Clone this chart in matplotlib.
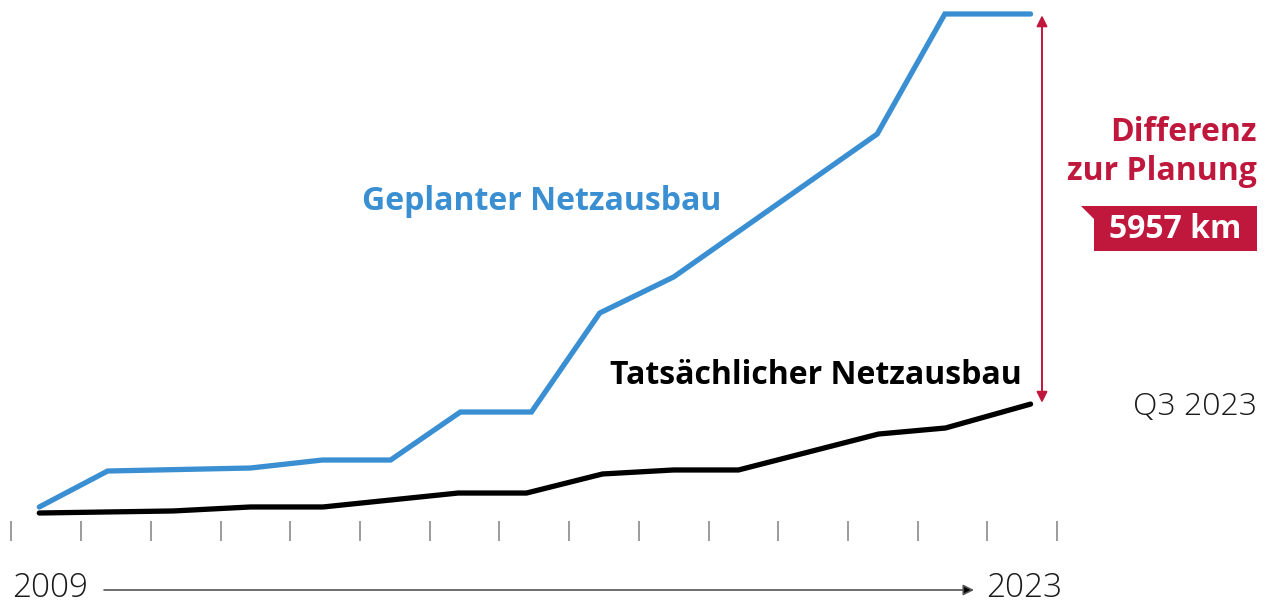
import matplotlib
matplotlib.use("Agg")
import matplotlib.pyplot as plt
from matplotlib.patches import Polygon

# ---- data (km) ----
planned_x = [2009.40, 2010.38, 2012.43, 2013.46, 2014.44, 2015.44, 2016.46,
             2017.44, 2018.50, 2021.42, 2022.39, 2023.62]
planned_km = [92, 641, 687, 809, 809, 1542, 1542, 3054, 3604, 5787, 7620, 7620]

actual_x = [2009.40, 2011.32, 2012.43, 2013.47, 2015.41, 2016.39, 2017.48,
            2018.50, 2019.43, 2021.44, 2022.40, 2023.62]
actual_km = [0, 31, 92, 92, 305, 305, 596, 657, 657, 1206, 1298, 1663]

tick_years = list(range(2009, 2025))
start_label = "2009"
end_label = "2023"
last_label = "Q3 2023"
planned_label = "Geplanter Netzausbau"
actual_label = "Tatsächlicher Netzausbau"
diff_title = "Differenz\nzur Planung"

BLUE = "#3A8FD2"
RED = "#C0173C"
GREY = "#8a8a8a"

W, H = 1270, 606
fig = plt.figure(figsize=(W / 100, H / 100), dpi=100)
ax = fig.add_axes([0, 0, 1, 1])
ax.set_axis_off()

px_per_year = 69.71
x0_px = 11.4
km_per_px = 15.27
zero_py = 513
ax.set_xlim(2009 - x0_px / px_per_year, 2009 + (W - x0_px) / px_per_year)
ax.set_ylim((zero_py - H) * km_per_px, zero_py * km_per_px)

def fx(px):
    return px / W

def fy(py):
    return 1 - py / H

ax.plot(planned_x, planned_km, color=BLUE, lw=3.8, solid_joinstyle="miter",
        solid_capstyle="round", zorder=3)
ax.plot(actual_x, actual_km, color="black", lw=3.8, solid_joinstyle="miter",
        solid_capstyle="round", zorder=3)

for t in tick_years:
    ax.plot([t, t], [(zero_py - 521) * km_per_px, (zero_py - 541) * km_per_px],
            color=GREY, lw=1.2, solid_capstyle="butt")

xa = 2009 + (1042 - x0_px) / px_per_year
ax.annotate("", xy=(xa, planned_km[-1] - 20), xytext=(xa, actual_km[-1] + 20),
            arrowprops=dict(arrowstyle="<|-|>", color=RED, lw=1.4,
                            mutation_scale=16, shrinkA=0, shrinkB=0))

font = "Open Sans"
BS = 23
fig.text(fx(362), fy(201), planned_label, color=BLUE, fontsize=BS,
         fontweight="bold", family=font, ha="left", va="center")
fig.text(fx(610), fy(376), actual_label, color="black", fontsize=BS,
         fontweight="bold", family=font, ha="left", va="center")
fig.text(fx(1257), fy(152), diff_title, color=RED, fontsize=BS,
         fontweight="bold", family=font, ha="right", va="center",
         linespacing=1.22, multialignment="right")

box = Polygon([(fx(1081), fy(206)), (fx(1257), fy(206)), (fx(1257), fy(251)),
               (fx(1094), fy(251)), (fx(1094), fy(219))],
              closed=True, transform=fig.transFigure, facecolor=RED,
              edgecolor="none")
fig.patches.append(box)
diff = planned_km[-1] - actual_km[-1]
fig.text(fx(1175), fy(229), f"{diff} km", color="white", fontsize=BS,
         fontweight="bold", family=font, ha="center", va="center")

fig.text(fx(1257), fy(407), last_label, color="#1a1a1a", fontsize=23,
         fontweight="light", family=font, ha="right", va="center")

fig.text(fx(12), fy(588), start_label, color="#1a1a1a", fontsize=24,
         fontweight="light", family=font, ha="left", va="center")
fig.text(fx(1062), fy(588), end_label, color="#1a1a1a", fontsize=24,
         fontweight="light", family=font, ha="right", va="center")
ax.annotate("", xy=(fx(974), fy(590)), xytext=(fx(104), fy(590)),
            xycoords="figure fraction", textcoords="figure fraction",
            arrowprops=dict(arrowstyle="-|>", color="#555555", lw=1.2,
                            mutation_scale=16, shrinkA=0, shrinkB=0,
                            fc="black"))

fig.savefig("out.png", dpi=100)
